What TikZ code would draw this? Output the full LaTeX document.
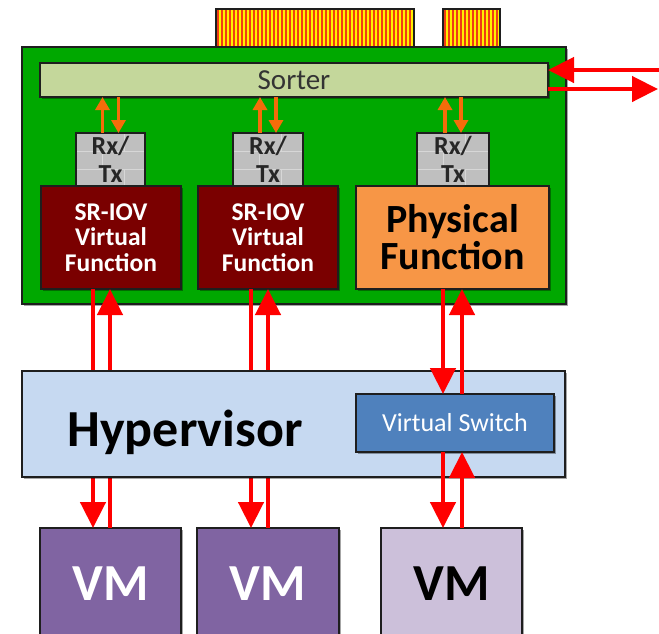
\documentclass[tikz,border=0pt]{standalone}
\usepackage{fontspec}
\setmainfont{Carlito}
\usetikzlibrary{arrows.meta,shadows}

\definecolor{boardgreen}{RGB}{0,168,0}
\definecolor{sortergreen}{RGB}{196,215,155}
\definecolor{vfred}{RGB}{122,0,0}
\definecolor{pforange}{RGB}{247,150,70}
\definecolor{hypblue}{RGB}{198,217,241}
\definecolor{vsblue}{RGB}{79,129,189}
\definecolor{vmpurple}{RGB}{128,100,162}
\definecolor{vmlilac}{RGB}{204,192,218}
\definecolor{rxgray}{RGB}{191,191,191}
\definecolor{rxline}{RGB}{215,215,215}
\definecolor{tabyellow}{RGB}{255,240,0}
\definecolor{tabred}{RGB}{240,60,20}
\definecolor{arrowred}{RGB}{255,0,0}
\definecolor{arroworange}{RGB}{245,108,10}
\definecolor{edge}{RGB}{30,30,30}

\begin{document}
\begin{tikzpicture}[x=1pt,y=-1pt,
  box/.style={draw=edge, line width=1.2pt, inner sep=0pt, outer sep=0pt,
    anchor=north west, align=center},
  shadowed/.style={drop shadow={shadow xshift=1.5pt, shadow yshift=-1.5pt,
    opacity=0.35, fill=black}},
  tab/.style={box, fill=tabyellow, minimum height=38pt,
    path picture={\foreach \i in {2,6,...,200}
      \draw[tabred, line width=1.3pt]
        ([xshift=\i pt]path picture bounding box.south west) --
        ([xshift=\i pt]path picture bounding box.north west);}},
  rxtx/.style={box, fill=rxgray, minimum height=53pt,
    font=\bfseries\fontsize{26}{28}\selectfont, text=black!85,
    path picture={
      \draw[rxline, line width=0.8pt]
        ([yshift=-18pt]path picture bounding box.north west) --
        ([yshift=-18pt]path picture bounding box.north east)
        ([yshift=-36pt]path picture bounding box.north west) --
        ([yshift=-36pt]path picture bounding box.north east)
        ([xshift=48pt]path picture bounding box.north west) --
        ([xshift=48pt,yshift=-18pt]path picture bounding box.north west)
        ([xshift=26pt,yshift=-18pt]path picture bounding box.north west) --
        ([xshift=26pt,yshift=-36pt]path picture bounding box.north west)
        ([xshift=48pt,yshift=-36pt]path picture bounding box.north west) --
        ([xshift=48pt]path picture bounding box.south west);}},
  vfbox/.style={box, shadowed, fill=vfred, minimum width=140pt, minimum height=103pt,
    text=white, font=\bfseries\fontsize{25.5}{25.5}\selectfont},
  vmbox/.style={box, shadowed, minimum width=141pt, minimum height=112pt,
    font=\bfseries\fontsize{52}{52}\selectfont},
  redarrow/.style={draw=arrowred, line width=4.5pt,
    -{Triangle[width=25pt,length=26pt]}},
  orangearrow/.style={draw=arroworange, line width=3.5pt,
    -{Triangle[width=14pt,length=13pt]}},
]
\useasboundingbox (0,0) rectangle (659,633);

% edge connector fingers on top of the card
\node[tab, minimum width=198pt] (tabA) at (216,9) {};
\node[tab, minimum width=57pt] (tabB) at (443,9) {};

% the network card
\node[box, shadowed, fill=boardgreen, minimum width=544pt, minimum height=257pt]
  (board) at (22,47) {};
\node[box, shadowed, fill=sortergreen, minimum width=508pt, minimum height=34pt,
  font=\fontsize{29}{30}\selectfont, text=black!80] (sorter) at (40,63) {Sorter};

% receive / transmit queues
\node[rxtx, minimum width=69pt] (rx1) at (76,133) {Rx/\\Tx};
\node[rxtx, minimum width=70pt] (rx2) at (233,133) {Rx/\\Tx};
\node[rxtx, minimum width=72pt] (rx3) at (417,133) {Rx/\\Tx};

% functions
\node[vfbox] (vf1) at (41,186) {SR-IOV\\Virtual\\Function};
\node[vfbox] (vf2) at (198,186) {SR-IOV\\Virtual\\Function};
\node[box, shadowed, fill=pforange, minimum width=193pt, minimum height=103pt,
  font=\bfseries\fontsize{40}{37}\selectfont] (pf) at (356,186) {Physical\\Function};

% virtual machines
\node[vmbox, fill=vmpurple, text=white] (vm1) at (40,528) {VM};
\node[vmbox, fill=vmpurple, text=white, minimum width=142pt] (vm2) at (197,528) {VM};
\node[vmbox, fill=vmlilac, text=black] (vm3) at (381,528) {VM};

% sorter <-> queues
\foreach \r in {rx1,rx2,rx3}{
  \draw[orangearrow] ([xshift=-8pt]\r.north) -- ([xshift=-8pt]\r.north |- sorter.south);
  \draw[orangearrow] ([xshift=8pt]\r.north |- sorter.south) -- ([xshift=8pt]\r.north);
}

% wire in / out
\coordinate (netin) at (659,70);
\coordinate (netout) at (658,89);
\draw[redarrow] (netin) -- (sorter.east |- netin);
\draw[redarrow] (sorter.east |- netout) -- (netout);

% direct assignment paths, passing under the hypervisor
\draw[redarrow] ([xshift=-18pt]vf1.south) -- ([xshift=-18pt]vf1.south |- vm1.north);
\draw[redarrow] ([xshift=-1pt]vf1.south |- vm1.north) -- ([xshift=-1pt]vf1.south);
\draw[redarrow] ([xshift=-17pt]vf2.south) -- ([xshift=-17pt]vf2.south |- vm2.north);
\draw[redarrow] ([xshift=0pt]vf2.south |- vm2.north) -- ([xshift=0pt]vf2.south);

% hypervisor and its software switch
\node[box, shadowed, fill=hypblue, minimum width=543pt, minimum height=106pt]
  (hyp) at (22,371) {};
\node[anchor=base, font=\bfseries\fontsize{52}{54}\selectfont] (hyptext)
  at (185,446) {Hypervisor};
\node[box, shadowed, fill=vsblue, minimum width=198pt, minimum height=58pt,
  text=white, font=\fontsize{26}{28}\selectfont] (vs) at (356,394) {Virtual Switch};

% emulated path through the virtual switch
\draw[redarrow] ([xshift=-9.5pt]pf.south) -- ([xshift=-9.5pt]pf.south |- vs.north);
\draw[redarrow] ([xshift=9.5pt]pf.south |- vs.north) -- ([xshift=9.5pt]pf.south);
\draw[redarrow] ([xshift=-9.5pt]pf.south |- vs.south) -- ([xshift=-9.5pt]pf.south |- vm3.north);
\draw[redarrow] ([xshift=9.5pt]pf.south |- vm3.north) -- ([xshift=9.5pt]pf.south |- vs.south);
\end{tikzpicture}
\end{document}
